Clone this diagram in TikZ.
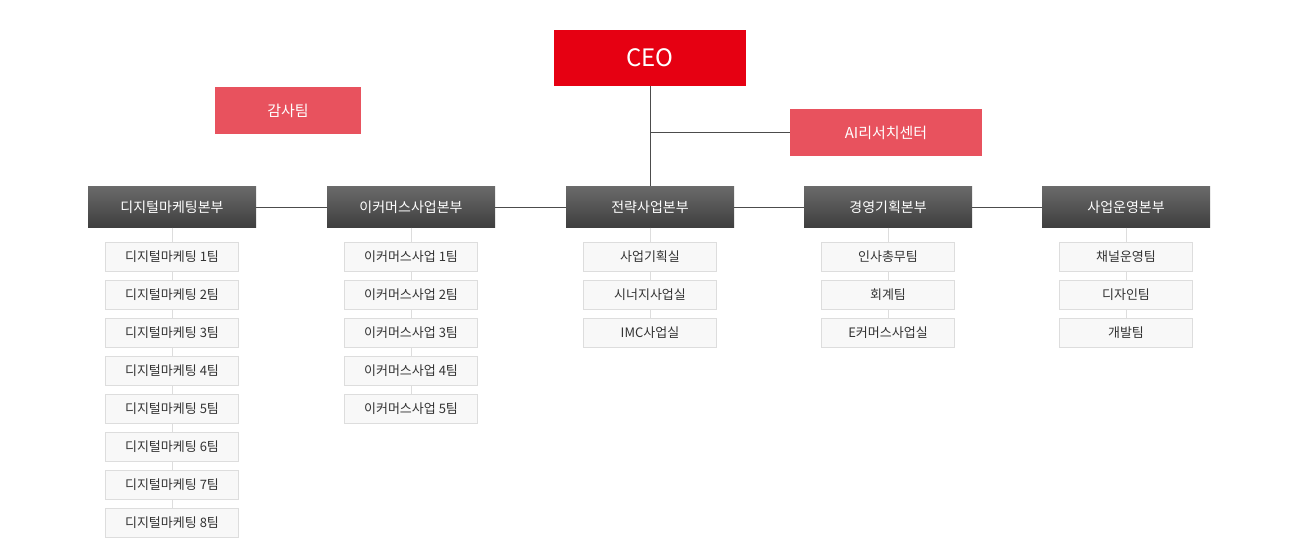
\documentclass[tikz,border=0pt]{standalone}
\usepackage{fontspec}
\setmainfont{Noto Sans CJK KR}
\usepackage{tikz}
\definecolor{ceored}{HTML}{E60012}
\definecolor{subred}{HTML}{E8525E}
\definecolor{hdtop}{HTML}{6A6A6A}
\definecolor{hdbot}{HTML}{3E3E3E}
\definecolor{teamfill}{HTML}{F8F8F8}
\definecolor{teamline}{HTML}{DDDDDD}
\begin{document}
\begin{tikzpicture}[x=1pt,y=-1pt,
        ceonode/.style={rectangle, fill=ceored, text=white, minimum width=192pt, minimum height=56pt, font=\fontsize{24}{24}\selectfont},
        subnode/.style={rectangle, fill=subred, text=white, minimum height=47pt, font=\fontsize{15}{15}\selectfont},
        divnode/.style={rectangle, top color=hdtop, bottom color=hdbot, text=white, minimum width=168pt, minimum height=41pt, font=\fontsize{14}{14}\selectfont},
        teamnode/.style={rectangle, fill=teamfill, draw=teamline, text=black!80, minimum width=133pt, minimum height=29pt, font=\fontsize{13}{13}\selectfont},
    ]
    \useasboundingbox (0,0) rectangle (1300,553);
    %Nodes
    \node[ceonode] (ceonode) at (650,58) {CEO};
    \node[subnode, minimum width=146pt] (auditnode) at (288,110.5) {감사팀};
    \node[subnode, minimum width=192pt] (ainode) at (886,132.5) {AI리서치센터};
    \foreach \i/\x/\name in {1/172/디지털마케팅본부, 2/411/이커머스사업본부, 3/650/전략사업본부, 4/888/경영기획본부, 5/1126/사업운영본부}
        \node[divnode] (div\i) at (\x,207) {\name};
    %Teams
    \foreach \j in {1,...,8}
        \node[teamnode] (dm\j) at (172,{256.5+38*(\j-1)}) {디지털마케팅 \j{}팀};
    \foreach \j in {1,...,5}
        \node[teamnode] (ec\j) at (411,{256.5+38*(\j-1)}) {이커머스사업 \j{}팀};
    \foreach \j/\name in {1/사업기획실, 2/시너지사업실, 3/IMC사업실}
        \node[teamnode] (st\j) at (650,{256.5+38*(\j-1)}) {\name};
    \foreach \j/\name in {1/인사총무팀, 2/회계팀, 3/E커머스사업실}
        \node[teamnode] (mg\j) at (888,{256.5+38*(\j-1)}) {\name};
    \foreach \j/\name in {1/채널운영팀, 2/디자인팀, 3/개발팀}
        \node[teamnode] (op\j) at (1126,{256.5+38*(\j-1)}) {\name};
    %Lines
    \draw[black!70] (ceonode.south) -- (div3.north);
    \draw[black!70] (ceonode.south |- ainode.west) -- (ainode.west);
    \foreach \a/\b in {1/2, 2/3, 3/4, 4/5}
        \draw[black!70] (div\a.east) -- (div\b.west);
    \draw[teamline] (div1.south) -- (dm1.north);
    \draw[teamline] (div2.south) -- (ec1.north);
    \draw[teamline] (div3.south) -- (st1.north);
    \draw[teamline] (div4.south) -- (mg1.north);
    \draw[teamline] (div5.south) -- (op1.north);
    \foreach \a [count=\b from 2] in {1,...,7}
        \draw[teamline] (dm\a.south) -- (dm\b.north);
    \foreach \a [count=\b from 2] in {1,...,4}
        \draw[teamline] (ec\a.south) -- (ec\b.north);
    \foreach \a [count=\b from 2] in {1,2} {
        \draw[teamline] (st\a.south) -- (st\b.north);
        \draw[teamline] (mg\a.south) -- (mg\b.north);
        \draw[teamline] (op\a.south) -- (op\b.north);
    }
\end{tikzpicture}
\end{document}
